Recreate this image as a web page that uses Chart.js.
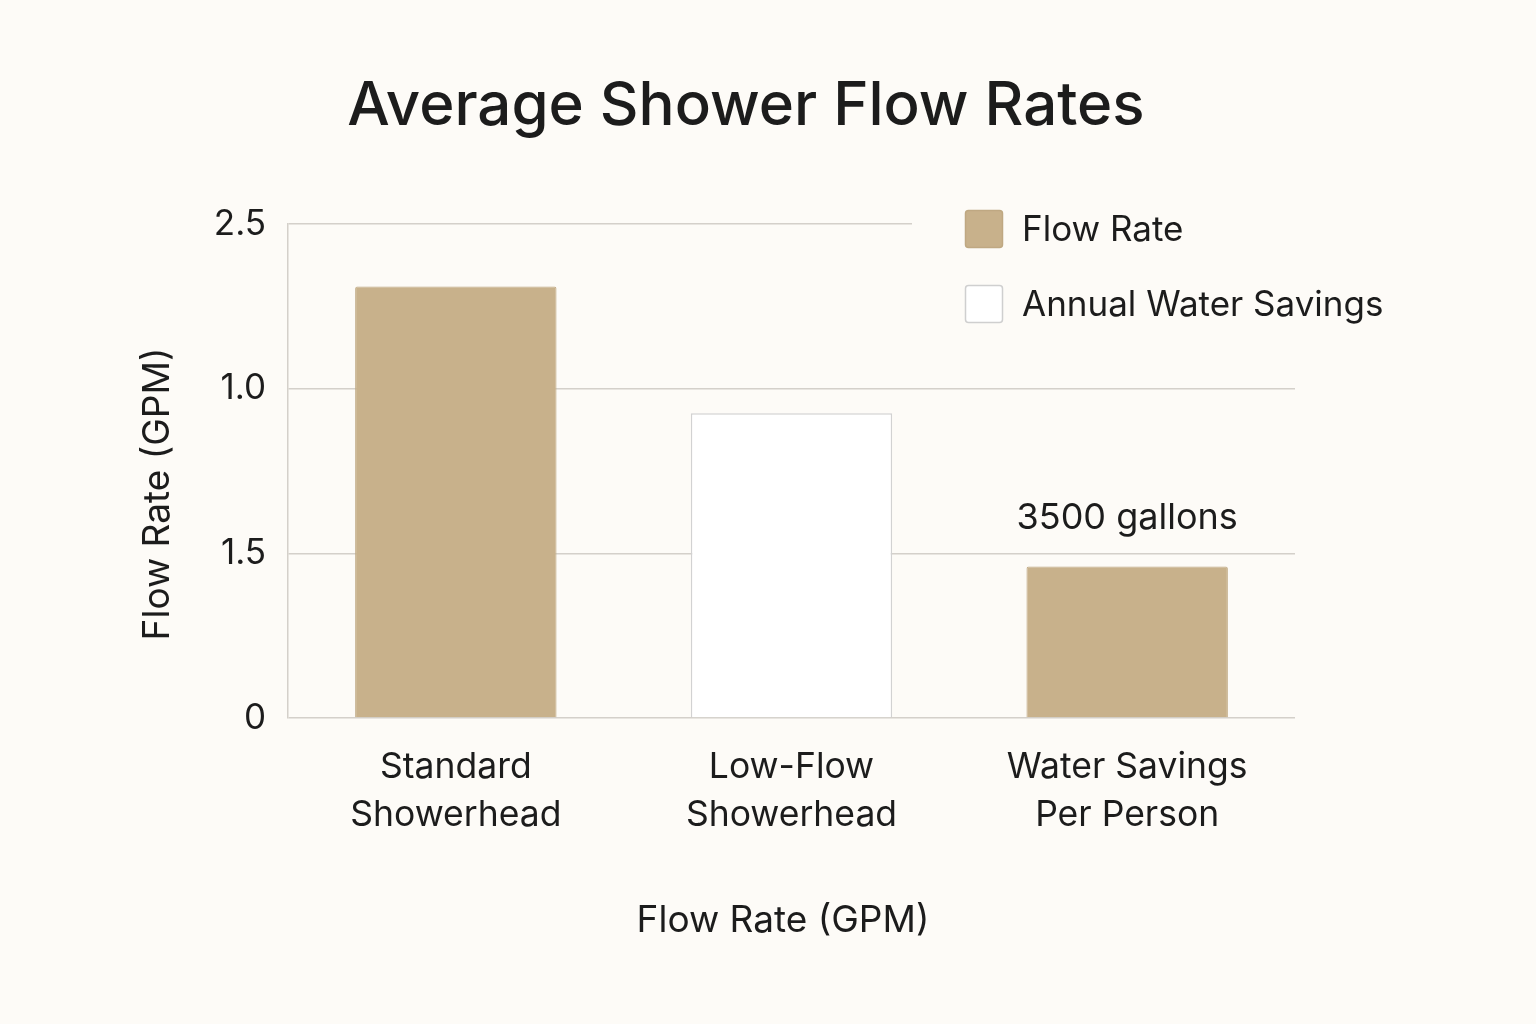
<!DOCTYPE html>
<html>
<head>
<meta charset="utf-8">
<script src="https://cdn.jsdelivr.net/npm/chart.js@4.4.1/dist/chart.umd.min.js"></script>
<style>
  html, body { margin: 0; padding: 0; background: #fdfbf7; }
  #wrap { width: 1536px; height: 1024px; }
</style>
</head>
<body>
<div id="wrap"><canvas id="myChart" width="1536" height="1024"></canvas></div>
<script>
const categories = [['Standard', 'Showerhead'], ['Low-Flow', 'Showerhead'], ['Water Savings', 'Per Person']]
const flowRate = [2.62, null, 0.92]
const annualSavings = [null, 1.85, null]
const yTickLabels = ['0', '1.5', '1.0', '2.5']
const barNotes = ['', '', '3500 gallons']

const chartTitle = 'Average Shower Flow Rates'
const axisTitle = 'Flow Rate (GPM)'

const textColor = '#1c1c1c'
const bgColor = '#fdfbf7'
const tan = '#c8b18b'
const gridColor = '#d4d0ca'
const fontFamily = 'Inter, "Noto Sans", sans-serif'

// title, legend, y title and bar note are drawn by hand so they sit where the picture has them
const extras = {
  id: 'extras',
  afterDatasetsDraw(chart) {
    const {ctx} = chart
    ctx.save()
    ctx.fillStyle = textColor
    ctx.textBaseline = 'middle'

    ctx.font = '500 60px ' + fontFamily
    ctx.textAlign = 'center'
    ctx.fillText(chartTitle, 746, 107)

    // legend sits over the top gridline
    ctx.fillStyle = bgColor
    ctx.fillRect(912, 190, 500, 150)
    const items = [
      {label: chart.data.datasets[0].label, fill: tan, stroke: '#bfa882', y: 229},
      {label: chart.data.datasets[1].label, fill: '#ffffff', stroke: '#cfcfcf', y: 304},
    ]
    items.forEach((it) => {
      ctx.fillStyle = it.fill
      ctx.strokeStyle = it.stroke
      ctx.lineWidth = 1.5
      ctx.beginPath()
      ctx.roundRect(965.5, it.y - 18.5, 37, 37, 3)
      ctx.fill()
      ctx.stroke()
      ctx.fillStyle = textColor
      ctx.font = '35px ' + fontFamily
      ctx.textAlign = 'left'
      ctx.fillText(it.label, 1022, it.y + 1)
    })

    // y axis title
    ctx.save()
    ctx.translate(158, 494)
    ctx.rotate(-Math.PI / 2)
    ctx.textAlign = 'center'
    ctx.font = '37px ' + fontFamily
    ctx.fillText(axisTitle, 0, 0)
    ctx.restore()

    // x axis title
    ctx.textAlign = 'center'
    ctx.font = '37px ' + fontFamily
    ctx.fillText(axisTitle, 783, 921)

    // note above bar
    ctx.font = '36px ' + fontFamily
    const meta = chart.getDatasetMeta(0)
    barNotes.forEach((note, i) => {
      if (!note) return
      const bar = meta.data[i]
      ctx.fillText(note, bar.x, bar.y - 48)
    })
    ctx.restore()
  }
}

const ctx = document.getElementById('myChart')

new Chart(ctx, {
  type: 'bar',
  data: {
    labels: categories,
    datasets: [
      {
        label: 'Flow Rate',
        data: flowRate,
        backgroundColor: tan,
        borderColor: '#bfa882',
        borderWidth: 1,
        borderRadius: 2,
        borderSkipped: 'bottom',
        barPercentage: 0.6,
        categoryPercentage: 1,
      },
      {
        label: 'Annual Water Savings',
        data: annualSavings,
        backgroundColor: '#ffffff',
        borderColor: '#d2d2d2',
        borderWidth: 1.5,
        borderSkipped: 'bottom',
        barPercentage: 0.6,
        categoryPercentage: 1,
      },
    ]
  },
  options: {
    responsive: false,
    animation: false,
    layout: {
      padding: {top: 224, right: 241, left: 0, bottom: 0}
    },
    scales: {
      x: {
        stacked: true,
        grid: {display: false, drawTicks: false},
        border: {display: false},
        ticks: {
          color: textColor,
          padding: 25,
          font: {family: fontFamily, size: 35.5, lineHeight: 1.36},
          maxRotation: 0,
        },
        afterFit: (scale) => { scale.height = 306 },
      },
      y: {
        stacked: false,
        min: 0,
        max: 3,
        grid: {color: gridColor, lineWidth: 1.5, drawTicks: false},
        border: {display: true, color: gridColor, width: 1.5},
        ticks: {
          stepSize: 1,
          color: textColor,
          padding: 22,
          font: {family: fontFamily, size: 35},
          callback: (val, idx) => yTickLabels[idx],
        },
        afterFit: (scale) => { scale.width = 288 },
      }
    },
    plugins: {
      legend: {display: false},
      tooltip: {enabled: false},
    }
  },
  plugins: [extras],
})
</script>
</body>
</html>
